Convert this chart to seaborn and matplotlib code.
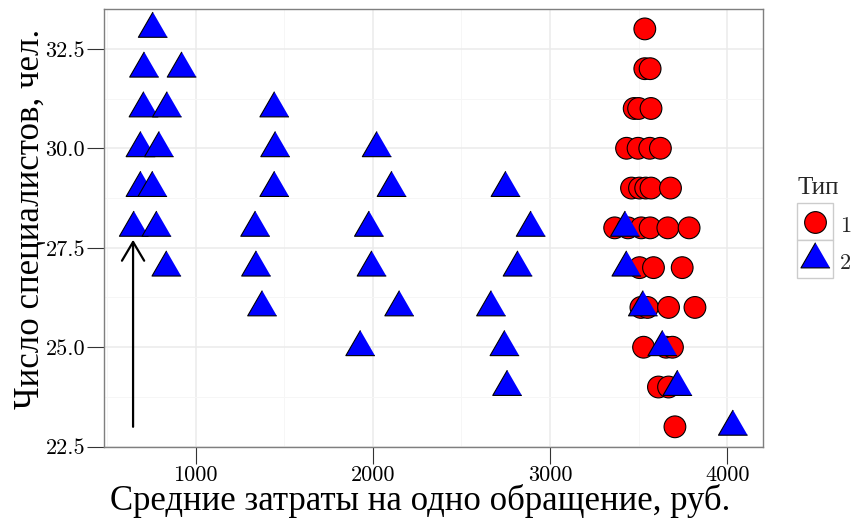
import matplotlib
matplotlib.use("Agg")
import matplotlib.pyplot as plt
from matplotlib.patches import Rectangle
from matplotlib.font_manager import FontProperties
from matplotlib.ticker import FixedLocator, FormatStrFormatter
import numpy as np
import pandas as pd
import seaborn as sns

# ---- data ----
type1_cost = [3535,
              3535, 3565,
              3475, 3500, 3570,
              3432, 3497, 3563, 3623,
              3460, 3505, 3540, 3570, 3680,
              3365, 3440, 3515, 3565, 3665, 3785,
              3505, 3584, 3746,
              3513, 3550, 3669, 3818,
              3528, 3655, 3691,
              3612, 3669,
              3705]
type1_staff = [33,
               32, 32,
               31, 31, 31,
               30, 30, 30, 30,
               29, 29, 29, 29, 29,
               28, 28, 28, 28, 28, 28,
               27, 27, 27,
               26, 26, 26, 26,
               25, 25, 25,
               24, 24,
               23]

type2_cost = [759,
              710, 922,
              707, 839, 1445,
              690, 794, 1450, 2023,
              690, 757, 1445, 2107, 2750,
              652, 780, 1337, 1979, 2892, 3424,
              836, 1342, 1994, 2818, 3432,
              1376, 2150, 2668, 3525,
              1930, 2744, 3635,
              2759, 3720,
              4033]
type2_staff = [33,
               32, 32,
               31, 31, 31,
               30, 30, 30, 30,
               29, 29, 29, 29, 29,
               28, 28, 28, 28, 28, 28,
               27, 27, 27, 27, 27,
               26, 26, 26, 26,
               25, 25, 25,
               24, 24,
               23]

type_levels = ["1", "2"]
arrow_x = 647
arrow_y_start = 23.0
arrow_y_end = 27.7

xlabel = "Средние затраты на одно обращение, руб."
ylabel = "Число специалистов, чел."
legend_title = "Тип"
x_ticks = [1000, 2000, 3000, 4000]
y_ticks = [22.5, 25.0, 27.5, 30.0, 32.5]

df = pd.DataFrame({
    "cost": type1_cost + type2_cost,
    "staff": type1_staff + type2_staff,
    "Тип": ["1"] * len(type1_cost) + ["2"] * len(type2_cost),
})

# ---- style ----
sns.set_style("white")
plt.rcParams["font.family"] = ["cmr10"]
cyr = ["Liberation Serif", "DejaVu Serif"]
txt = "#000000"

W, H = 851, 518
fig = plt.figure(figsize=(W / 100, H / 100), dpi=100)
L, R, T, B = 104, 763, 9, 446.7
ax = fig.add_axes([L / W, 1 - B / H, (R - L) / W, (B - T) / H])

tri = [(0, 1), (-0.866, -0.5), (0.866, -0.5)]
sns.scatterplot(data=df, x="cost", y="staff", hue="Тип", style="Тип", size="Тип",
                hue_order=type_levels, style_order=type_levels, size_order=type_levels,
                palette={"1": "#FF0000", "2": "#0000FF"},
                markers={"1": "o", "2": tri},
                sizes={"1": 245, "2": 585},
                edgecolor="black", linewidth=0.8, alpha=1, ax=ax, zorder=3)

ax.annotate("", xy=(arrow_x, arrow_y_end), xytext=(arrow_x, arrow_y_start),
            arrowprops=dict(arrowstyle="->,head_length=1.35,head_width=0.8",
                            lw=1.6, color="black", shrinkA=0, shrinkB=0),
            zorder=4)

# limits: ggplot-like 5% expansion
xr = max(df.cost) - min(df.cost)
yr = max(df.staff) - min(df.staff)
ax.set_xlim(min(df.cost) - 0.05 * xr, max(df.cost) + 0.05 * xr)
ax.set_ylim(min(df.staff) - 0.05 * yr, max(df.staff) + 0.05 * yr)

ax.xaxis.set_major_locator(FixedLocator(x_ticks))
ax.yaxis.set_major_locator(FixedLocator(y_ticks))
ax.xaxis.set_minor_locator(FixedLocator([500, 1500, 2500, 3500]))
ax.yaxis.set_minor_locator(FixedLocator([23.75, 26.25, 28.75, 31.25]))
ax.xaxis.set_major_formatter(FormatStrFormatter("%d"))
ax.yaxis.set_major_formatter(FormatStrFormatter("%.1f"))

ax.grid(which="major", color="#EBEBEB", lw=1.1, zorder=0)
ax.grid(which="minor", color="#F6F6F6", lw=0.7, zorder=0)
ax.set_axisbelow(True)
for s in ax.spines.values():
    s.set_color("#7F7F7F")
    s.set_linewidth(1.0)
ax.tick_params(which="major", direction="out", length=12, width=0.8, color="#333333",
               labelsize=16, labelcolor=txt, pad=1.5, bottom=True, left=True)
ax.tick_params(which="minor", length=0)

ax.set_xlabel(xlabel, fontsize=25, family=cyr, color=txt)
ax.set_ylabel(ylabel, fontsize=25, family=cyr, color=txt)
ax.xaxis.set_label_coords((420 - L) / (R - L), -(484 - B) / (B - T))
ax.yaxis.set_label_coords(-(104 - 47) / (R - L), (B - 219) / (B - T))

# legend (rebuilt from seaborn's handles)
old = ax.get_legend()
handles = old.legend_handles
labels = [t.get_text() for t in old.get_texts()]
old.remove()
fs = 16
fs_px = fs * 100 / 72
gap_px = 12
row_pt = (37.5 - gap_px) * 72 / 100
hh = (row_pt / fs - 0.245) / 0.65
anchor = [797 / W, 1 - 171 / H]
leg = ax.legend(handles, labels, loc="upper left",
                bbox_to_anchor=anchor, bbox_transform=fig.transFigure,
                prop=FontProperties(family="cmr10", size=fs),
                title=legend_title,
                title_fontproperties=FontProperties(family=cyr, size=18),
                alignment="left", frameon=False, borderpad=0, borderaxespad=0,
                labelspacing=gap_px / fs_px, handlelength=36 / fs_px, handleheight=hh,
                handletextpad=7 / fs_px)

# align the first legend key with its place in the reference
fig.canvas.draw()
rdr = fig.canvas.get_renderer()
bb = leg.legend_handles[0].get_window_extent(rdr)
cx, cy = (bb.x0 + bb.x1) / 2, (bb.y0 + bb.y1) / 2
tx, ty = 815, H - 221.5
anchor = [anchor[0] + (tx - cx) / W, anchor[1] + (ty - cy) / H]
leg.set_bbox_to_anchor(anchor, transform=fig.transFigure)
fig.canvas.draw()
centers = []
for hnd in leg.legend_handles:
    b = hnd.get_window_extent(rdr)
    centers.append(((b.x0 + b.x1) / 2, (b.y0 + b.y1) / 2))
for (mx, my) in centers:
    fig.add_artist(Rectangle(((mx - 18) / W, (my - 18.75) / H), 36 / W, 37.5 / H,
                             transform=fig.transFigure, facecolor="white",
                             edgecolor="#CCCCCC", lw=1.0, zorder=-1))

fig.savefig("out.png", dpi=100)
